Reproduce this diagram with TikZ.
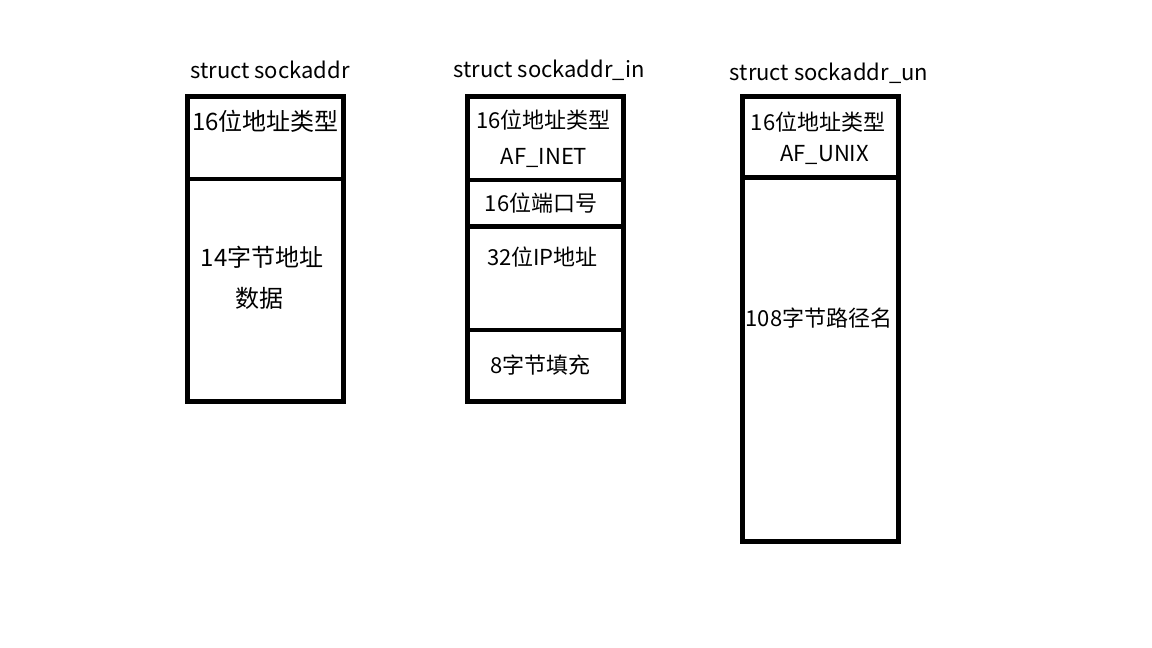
\documentclass[tikz,border=0pt]{standalone}
\usepackage{fontspec}
\setmainfont{Noto Sans CJK SC}
\usepackage{tikz}
\usetikzlibrary{positioning}

\begin{document}
\begin{tikzpicture}[x=1pt, y=-1pt,
  cell/.style = {draw, line width=4.7pt, minimum width=156pt, inner sep=0pt, outer sep=0pt},
  title/.style = {font=\fontsize{22}{26}\selectfont, inner sep=0pt},
  txt/.style = {font=\fontsize{22}{26}\selectfont, inner sep=0pt},
  bigtxt/.style = {font=\fontsize{24}{28}\selectfont, inner sep=0pt}]
\useasboundingbox (0,0) rectangle (1152,648);
% struct sockaddr
\node[cell, minimum height=82.5pt] (a1) at (265.5,137.75) {};
\node[cell, minimum height=222.5pt] (a2) [below=0pt of a1] {};
% struct sockaddr_in
\node[cell, minimum height=83.5pt] (b1) at (545.75,138.25) {};
\node[cell, minimum height=46.7pt] (b2) [below=0pt of b1] {};
\node[cell, minimum height=103.3pt] (b3) [below=0pt of b2] {};
\node[cell, minimum height=71.5pt] (b4) [below=0pt of b3] {};
% struct sockaddr_un
\node[cell, minimum height=80.7pt] (c1) at (820.5,137.15) {};
\node[cell, minimum height=364.2pt] (c2) [below=0pt of c1] {};
% titles
\node[title] (ta) at (270,70) {struct sockaddr};
\node[title] (tb) at (549,70) {struct sockaddr\_in};
\node[title] (tc) at (829,73) {struct sockaddr\_un};
% labels
\node[bigtxt] (la1) at (265.5,121) {16位地址类型};
\node[bigtxt] (la2) at (262,257) {14字节地址};
\node[bigtxt] (la3) at (259,298) {数据};
\node[txt] (lb1) at (543.7,120) {16位地址类型};
\node[txt] (lb2) at (544,158) {AF\_INET};
\node[txt] (lb3) at (541,203) {16位端口号};
\node[txt] (lb4) at (542.5,257) {32位IP地址};
\node[txt] (lb5) at (540.7,365) {8字节填充};
\node[txt] (lc1) at (818,122) {16位地址类型};
\node[txt] (lc2) at (824.7,155) {AF\_UNIX};
\node[txt] (lc3) at (819,318) {108字节路径名};
\end{tikzpicture}
\end{document}
